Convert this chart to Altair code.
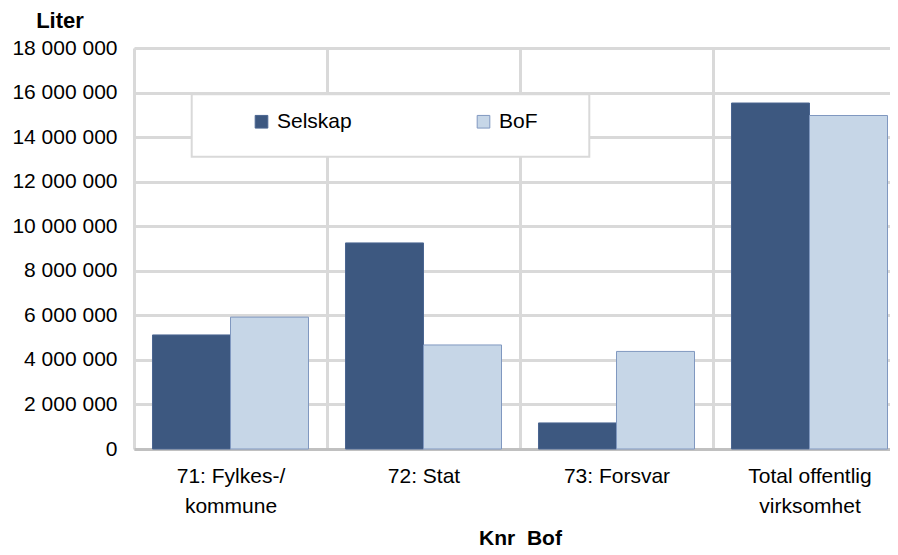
import altair as alt
import pandas as pd

categories = ["71: Fylkes-/\nkommune", "72: Stat", "73: Forsvar", "Total offentlig\nvirksomhet"]
series = ["Selskap", "BoF"]
selskap = [5120000, 9250000, 1170000, 15530000]
bof = [5920000, 4670000, 4380000, 14970000]
y_ticks = [0, 2000000, 4000000, 6000000, 8000000, 10000000, 12000000, 14000000, 16000000, 18000000]

rows = []
for c, a, b in zip(categories, selskap, bof):
    rows.append({"cat": c, "serie": "Selskap", "val": a})
    rows.append({"cat": c, "serie": "BoF", "val": b})
df = pd.DataFrame(rows)

FONT = "Liberation Sans"

bars = alt.Chart(df).mark_bar(strokeWidth=1).encode(
    x=alt.X("cat:N", sort=categories,
            scale=alt.Scale(paddingInner=0, paddingOuter=0),
            axis=alt.Axis(title="Knr\u00a0\u00a0Bof", labelAngle=0, tickBand="extent",
                          labelExpr="split(datum.label, '\\n')",
                          labelLineHeight=30, labelPadding=16, ticks=False,
                          labelFontSize=21, labelFont=FONT, labelColor="#000000",
                          grid=True, gridColor="#d9d9d9", gridWidth=3,
                          domainColor="#c0c0c0", domainWidth=3,
                          titleFontSize=21, titleFont=FONT, titleFontWeight="bold",
                          titleX=386, titleY=95, titleBaseline="alphabetic",
                          titleAlign="center", titleColor="#000000")),
    xOffset=alt.XOffset("serie:N", sort=series,
                        scale=alt.Scale(paddingOuter=0.237, paddingInner=0)),
    y=alt.Y("val:Q", scale=alt.Scale(domain=[0, 18000000], nice=False),
            axis=alt.Axis(title="Liter", values=y_ticks, ticks=False, domain=False,
                          labelExpr="replace(replace(format(datum.value, ','), ',', ' '), ',', ' ')",
                          labelFontSize=21, labelFont=FONT, labelColor="#000000",
                          labelPadding=17,
                          grid=True, gridColor="#d9d9d9", gridWidth=3,
                          titleAngle=0, titleX=-74.5, titleY=-21,
                          titleAlign="center", titleBaseline="alphabetic",
                          titleFontSize=22, titleFont=FONT, titleFontWeight="bold",
                          titleColor="#000000")),
    color=alt.Color("serie:N", sort=series,
                    scale=alt.Scale(domain=series, range=["#3d5880", "#c6d6e7"]),
                    legend=alt.Legend(title=None, orient="none", legendX=117, legendY=63,
                                      direction="horizontal", symbolType="square",
                                      symbolSize=160, symbolStrokeWidth=1,
                                      labelFontSize=21, labelFont=FONT, labelColor="#000000",
                                      labelOffset=5, columnPadding=121, padding=0)),
    stroke=alt.Stroke("serie:N", sort=series,
                      scale=alt.Scale(domain=series, range=["#4a6590", "#8098c0"]),
                      legend=None),
)

legend_box = alt.Chart(alt.Data(values=[{}])).mark_rect(
    fill="#ffffff", stroke="#d9d9d9", strokeWidth=2
).encode(
    x=alt.value(57.7), x2=alt.value(455.3), y=alt.value(46.3), y2=alt.value(108.7)
)

chart = alt.layer(bars, legend_box).properties(
    width=772, height=401,
    autosize=alt.AutoSizeParams(type="none"),
    padding={"left": 126, "top": 40, "right": -16, "bottom": 98},
).configure_view(stroke=None).configure(font=FONT)

chart.save("out.html", embed_options={"renderer": "svg", "actions": False})
